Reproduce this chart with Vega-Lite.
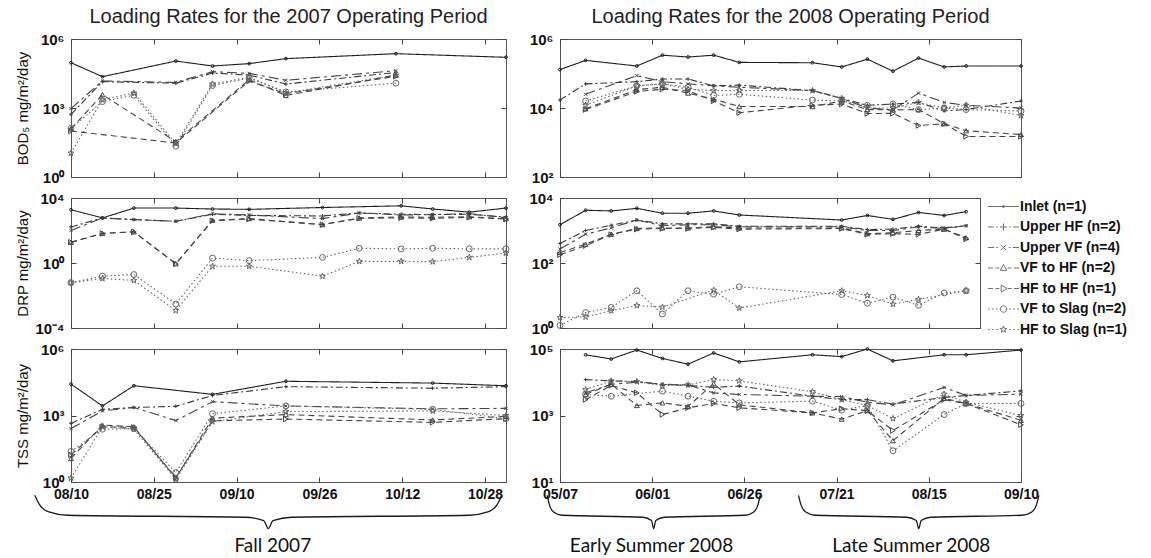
{
  "$schema": "https://vega.github.io/schema/vega-lite/v6.json",
  "padding": {"left": 14, "top": 6, "right": 5, "bottom": 5},
  "background": "white",
  "datasets": {
    "bod07": [
      {"series":"Inlet","date":"2007-08-10","value":93000},{"series":"Inlet","date":"2007-08-16","value":23000},{"series":"Inlet","date":"2007-08-30","value":110000},{"series":"Inlet","date":"2007-09-06","value":67000},{"series":"Inlet","date":"2007-09-13","value":85000},{"series":"Inlet","date":"2007-09-20","value":140000},{"series":"Inlet","date":"2007-10-11","value":230000},{"series":"Inlet","date":"2007-11-01","value":160000},
      {"series":"Upper HF","date":"2007-08-10","value":530},{"series":"Upper HF","date":"2007-08-16","value":14000},{"series":"Upper HF","date":"2007-08-30","value":12000},{"series":"Upper HF","date":"2007-09-06","value":33000},{"series":"Upper HF","date":"2007-09-13","value":27000},{"series":"Upper HF","date":"2007-09-20","value":11000},{"series":"Upper HF","date":"2007-10-11","value":35000},
      {"series":"Upper VF","date":"2007-08-10","value":940},{"series":"Upper VF","date":"2007-08-16","value":15000},{"series":"Upper VF","date":"2007-08-30","value":13000},{"series":"Upper VF","date":"2007-09-06","value":38000},{"series":"Upper VF","date":"2007-09-13","value":32000},{"series":"Upper VF","date":"2007-09-20","value":16000},{"series":"Upper VF","date":"2007-10-11","value":42000},
      {"series":"VF to HF","date":"2007-08-10","value":125},{"series":"VF to HF","date":"2007-08-16","value":3800},{"series":"VF to HF","date":"2007-08-30","value":35},{"series":"VF to HF","date":"2007-09-13","value":17000},{"series":"VF to HF","date":"2007-09-20","value":3500},{"series":"VF to HF","date":"2007-10-11","value":27000},
      {"series":"HF to HF","date":"2007-08-10","value":100},{"series":"HF to HF","date":"2007-08-30","value":30},{"series":"HF to HF","date":"2007-09-13","value":15000},{"series":"HF to HF","date":"2007-09-20","value":4200},{"series":"HF to HF","date":"2007-10-11","value":24000},
      {"series":"VF to Slag","date":"2007-08-10","value":130},{"series":"VF to Slag","date":"2007-08-16","value":1900},{"series":"VF to Slag","date":"2007-08-22","value":3600},{"series":"VF to Slag","date":"2007-08-30","value":22},{"series":"VF to Slag","date":"2007-09-06","value":9500},{"series":"VF to Slag","date":"2007-09-13","value":20000},{"series":"VF to Slag","date":"2007-09-20","value":5000},{"series":"VF to Slag","date":"2007-10-11","value":12000},
      {"series":"HF to Slag","date":"2007-08-10","value":11},{"series":"HF to Slag","date":"2007-08-16","value":2300},{"series":"HF to Slag","date":"2007-08-22","value":4500},{"series":"HF to Slag","date":"2007-08-30","value":28},{"series":"HF to Slag","date":"2007-09-06","value":11000},{"series":"HF to Slag","date":"2007-09-13","value":22000},{"series":"HF to Slag","date":"2007-09-20","value":4500},{"series":"HF to Slag","date":"2007-10-11","value":27000}
    ],
    "drp07": [
      {"series":"Inlet","date":"2007-08-10","value":1900},{"series":"Inlet","date":"2007-08-16","value":590},{"series":"Inlet","date":"2007-08-22","value":2400},{"series":"Inlet","date":"2007-08-30","value":2400},{"series":"Inlet","date":"2007-09-06","value":2100},{"series":"Inlet","date":"2007-09-13","value":2000},{"series":"Inlet","date":"2007-09-27","value":2600},{"series":"Inlet","date":"2007-10-12","value":3300},{"series":"Inlet","date":"2007-10-18","value":2100},{"series":"Inlet","date":"2007-10-25","value":1350},{"series":"Inlet","date":"2007-11-01","value":2400},
      {"series":"Upper HF","date":"2007-08-10","value":166},{"series":"Upper HF","date":"2007-08-16","value":590},{"series":"Upper HF","date":"2007-08-22","value":470},{"series":"Upper HF","date":"2007-08-30","value":370},{"series":"Upper HF","date":"2007-09-06","value":1000},{"series":"Upper HF","date":"2007-09-13","value":850},{"series":"Upper HF","date":"2007-09-27","value":780},{"series":"Upper HF","date":"2007-10-04","value":1200},{"series":"Upper HF","date":"2007-10-12","value":1000},{"series":"Upper HF","date":"2007-10-18","value":950},{"series":"Upper HF","date":"2007-10-25","value":1000},{"series":"Upper HF","date":"2007-11-01","value":680},
      {"series":"Upper VF","date":"2007-08-10","value":100},{"series":"Upper VF","date":"2007-08-16","value":590},{"series":"Upper VF","date":"2007-08-22","value":470},{"series":"Upper VF","date":"2007-08-30","value":370},{"series":"Upper VF","date":"2007-09-06","value":1070},{"series":"Upper VF","date":"2007-09-13","value":900},{"series":"Upper VF","date":"2007-09-27","value":540},{"series":"Upper VF","date":"2007-10-04","value":1200},{"series":"Upper VF","date":"2007-10-12","value":900},{"series":"Upper VF","date":"2007-10-18","value":950},{"series":"Upper VF","date":"2007-10-25","value":1100},{"series":"Upper VF","date":"2007-11-01","value":600},
      {"series":"VF to HF","date":"2007-08-10","value":19},{"series":"VF to HF","date":"2007-08-16","value":66},{"series":"VF to HF","date":"2007-08-22","value":83},{"series":"VF to HF","date":"2007-08-30","value":0.9},{"series":"VF to HF","date":"2007-09-06","value":430},{"series":"VF to HF","date":"2007-09-13","value":540},{"series":"VF to HF","date":"2007-09-27","value":230},{"series":"VF to HF","date":"2007-10-04","value":590},{"series":"VF to HF","date":"2007-10-12","value":680},{"series":"VF to HF","date":"2007-10-18","value":650},{"series":"VF to HF","date":"2007-10-25","value":700},{"series":"VF to HF","date":"2007-11-01","value":540},
      {"series":"HF to HF","date":"2007-08-10","value":19},{"series":"HF to HF","date":"2007-08-16","value":66},{"series":"HF to HF","date":"2007-08-22","value":83},{"series":"HF to HF","date":"2007-08-30","value":0.9},{"series":"HF to HF","date":"2007-09-06","value":400},{"series":"HF to HF","date":"2007-09-13","value":500},{"series":"HF to HF","date":"2007-09-27","value":230},{"series":"HF to HF","date":"2007-10-04","value":560},{"series":"HF to HF","date":"2007-10-12","value":600},{"series":"HF to HF","date":"2007-10-18","value":560},{"series":"HF to HF","date":"2007-10-25","value":650},{"series":"HF to HF","date":"2007-11-01","value":500},
      {"series":"VF to Slag","date":"2007-08-10","value":0.062},{"series":"VF to Slag","date":"2007-08-16","value":0.155},{"series":"VF to Slag","date":"2007-08-22","value":0.195},{"series":"VF to Slag","date":"2007-08-30","value":0.003},{"series":"VF to Slag","date":"2007-09-06","value":2.0},{"series":"VF to Slag","date":"2007-09-13","value":1.4},{"series":"VF to Slag","date":"2007-09-27","value":2.2},{"series":"VF to Slag","date":"2007-10-04","value":8.1},{"series":"VF to Slag","date":"2007-10-12","value":7.4},{"series":"VF to Slag","date":"2007-10-18","value":8.1},{"series":"VF to Slag","date":"2007-10-25","value":7.4},{"series":"VF to Slag","date":"2007-11-01","value":7.4},
      {"series":"HF to Slag","date":"2007-08-10","value":0.062},{"series":"HF to Slag","date":"2007-08-16","value":0.11},{"series":"HF to Slag","date":"2007-08-22","value":0.085},{"series":"HF to Slag","date":"2007-08-30","value":0.0012},{"series":"HF to Slag","date":"2007-09-06","value":0.63},{"series":"HF to Slag","date":"2007-09-13","value":0.63},{"series":"HF to Slag","date":"2007-09-27","value":0.155},{"series":"HF to Slag","date":"2007-10-04","value":1.26},{"series":"HF to Slag","date":"2007-10-12","value":1.26},{"series":"HF to Slag","date":"2007-10-18","value":1.2},{"series":"HF to Slag","date":"2007-10-25","value":2.2},{"series":"HF to Slag","date":"2007-11-01","value":4.1}
    ],
    "tss07": [
      {"series":"Inlet","date":"2007-08-10","value":26000},{"series":"Inlet","date":"2007-08-16","value":2700},{"series":"Inlet","date":"2007-08-22","value":22000},{"series":"Inlet","date":"2007-09-06","value":9000},{"series":"Inlet","date":"2007-09-20","value":35000},{"series":"Inlet","date":"2007-10-18","value":29000},{"series":"Inlet","date":"2007-11-01","value":22000},
      {"series":"Upper HF","date":"2007-08-10","value":440},{"series":"Upper HF","date":"2007-08-16","value":1900},{"series":"Upper HF","date":"2007-08-22","value":2300},{"series":"Upper HF","date":"2007-08-30","value":2600},{"series":"Upper HF","date":"2007-09-06","value":8000},{"series":"Upper HF","date":"2007-09-20","value":20000},{"series":"Upper HF","date":"2007-10-18","value":17000},{"series":"Upper HF","date":"2007-11-01","value":20000},
      {"series":"Upper VF","date":"2007-08-10","value":257},{"series":"Upper VF","date":"2007-08-16","value":1600},{"series":"Upper VF","date":"2007-08-22","value":2300},{"series":"Upper VF","date":"2007-08-30","value":590},{"series":"Upper VF","date":"2007-09-06","value":4200},{"series":"Upper VF","date":"2007-09-20","value":2700},{"series":"Upper VF","date":"2007-10-18","value":2000},{"series":"Upper VF","date":"2007-11-01","value":2100},
      {"series":"VF to HF","date":"2007-08-10","value":11.5},{"series":"VF to HF","date":"2007-08-16","value":370},{"series":"VF to HF","date":"2007-08-22","value":310},{"series":"VF to HF","date":"2007-08-30","value":1.5},{"series":"VF to HF","date":"2007-09-06","value":760},{"series":"VF to HF","date":"2007-09-20","value":1100},{"series":"VF to HF","date":"2007-10-18","value":630},{"series":"VF to HF","date":"2007-11-01","value":910},
      {"series":"HF to HF","date":"2007-08-10","value":17},{"series":"HF to HF","date":"2007-08-16","value":310},{"series":"HF to HF","date":"2007-08-22","value":290},{"series":"HF to HF","date":"2007-08-30","value":1.6},{"series":"HF to HF","date":"2007-09-06","value":570},{"series":"HF to HF","date":"2007-09-20","value":690},{"series":"HF to HF","date":"2007-10-18","value":490},{"series":"HF to HF","date":"2007-11-01","value":720},
      {"series":"VF to Slag","date":"2007-08-10","value":24},{"series":"VF to Slag","date":"2007-08-16","value":240},{"series":"VF to Slag","date":"2007-08-22","value":260},{"series":"VF to Slag","date":"2007-08-30","value":2.7},{"series":"VF to Slag","date":"2007-09-06","value":1200},{"series":"VF to Slag","date":"2007-09-20","value":2700},{"series":"VF to Slag","date":"2007-10-18","value":1900},{"series":"VF to Slag","date":"2007-11-01","value":720},
      {"series":"HF to Slag","date":"2007-08-10","value":1.5},{"series":"HF to Slag","date":"2007-08-16","value":310},{"series":"HF to Slag","date":"2007-08-22","value":240},{"series":"HF to Slag","date":"2007-08-30","value":1.3},{"series":"HF to Slag","date":"2007-09-06","value":525},{"series":"HF to Slag","date":"2007-09-20","value":1500},{"series":"HF to Slag","date":"2007-10-18","value":1600},{"series":"HF to Slag","date":"2007-11-01","value":1000}
    ],
    "bod08": [
      {"series":"Inlet","date":"2008-05-07","value":130000},{"series":"Inlet","date":"2008-05-14","value":240000},{"series":"Inlet","date":"2008-05-28","value":165000},{"series":"Inlet","date":"2008-06-04","value":340000},{"series":"Inlet","date":"2008-06-11","value":300000},{"series":"Inlet","date":"2008-06-18","value":340000},{"series":"Inlet","date":"2008-06-25","value":210000},{"series":"Inlet","date":"2008-07-15","value":205000},{"series":"Inlet","date":"2008-07-23","value":155000},{"series":"Inlet","date":"2008-07-30","value":260000},{"series":"Inlet","date":"2008-08-06","value":117000},{"series":"Inlet","date":"2008-08-13","value":280000},{"series":"Inlet","date":"2008-08-20","value":155000},{"series":"Inlet","date":"2008-08-26","value":165000},{"series":"Inlet","date":"2008-09-10","value":165000},
      {"series":"Upper HF","date":"2008-05-07","value":17000},{"series":"Upper HF","date":"2008-05-14","value":50000},{"series":"Upper HF","date":"2008-05-28","value":58000},{"series":"Upper HF","date":"2008-06-04","value":69000},{"series":"Upper HF","date":"2008-06-11","value":69000},{"series":"Upper HF","date":"2008-06-18","value":44000},{"series":"Upper HF","date":"2008-06-25","value":46000},{"series":"Upper HF","date":"2008-07-15","value":32000},{"series":"Upper HF","date":"2008-07-23","value":19000},{"series":"Upper HF","date":"2008-07-30","value":12000},{"series":"Upper HF","date":"2008-08-06","value":13000},{"series":"Upper HF","date":"2008-08-13","value":14500},{"series":"Upper HF","date":"2008-08-20","value":8200},{"series":"Upper HF","date":"2008-08-26","value":9000},{"series":"Upper HF","date":"2008-09-10","value":16000},
      {"series":"Upper VF","date":"2008-05-14","value":25000},{"series":"Upper VF","date":"2008-05-28","value":87000},{"series":"Upper VF","date":"2008-06-04","value":58000},{"series":"Upper VF","date":"2008-06-11","value":50000},{"series":"Upper VF","date":"2008-06-18","value":44000},{"series":"Upper VF","date":"2008-06-25","value":40000},{"series":"Upper VF","date":"2008-07-15","value":32000},{"series":"Upper VF","date":"2008-07-23","value":19000},{"series":"Upper VF","date":"2008-07-30","value":10000},{"series":"Upper VF","date":"2008-08-06","value":8800},{"series":"Upper VF","date":"2008-08-13","value":27000},{"series":"Upper VF","date":"2008-08-20","value":14500},{"series":"Upper VF","date":"2008-08-26","value":12000},{"series":"Upper VF","date":"2008-09-10","value":10000},
      {"series":"VF to HF","date":"2008-05-14","value":9500},{"series":"VF to HF","date":"2008-05-28","value":34000},{"series":"VF to HF","date":"2008-06-04","value":40000},{"series":"VF to HF","date":"2008-06-11","value":27000},{"series":"VF to HF","date":"2008-06-18","value":18000},{"series":"VF to HF","date":"2008-06-25","value":11000},{"series":"VF to HF","date":"2008-07-15","value":11000},{"series":"VF to HF","date":"2008-07-23","value":16000},{"series":"VF to HF","date":"2008-07-30","value":9000},{"series":"VF to HF","date":"2008-08-06","value":8800},{"series":"VF to HF","date":"2008-08-13","value":9000},{"series":"VF to HF","date":"2008-08-20","value":3500},{"series":"VF to HF","date":"2008-08-26","value":2200},{"series":"VF to HF","date":"2008-09-10","value":1700},
      {"series":"HF to HF","date":"2008-05-14","value":9000},{"series":"HF to HF","date":"2008-05-28","value":30000},{"series":"HF to HF","date":"2008-06-04","value":35000},{"series":"HF to HF","date":"2008-06-11","value":32000},{"series":"HF to HF","date":"2008-06-18","value":16000},{"series":"HF to HF","date":"2008-06-25","value":7300},{"series":"HF to HF","date":"2008-07-15","value":12000},{"series":"HF to HF","date":"2008-07-23","value":13000},{"series":"HF to HF","date":"2008-07-30","value":6900},{"series":"HF to HF","date":"2008-08-06","value":7000},{"series":"HF to HF","date":"2008-08-13","value":3100},{"series":"HF to HF","date":"2008-08-20","value":3500},{"series":"HF to HF","date":"2008-08-26","value":1500},{"series":"HF to HF","date":"2008-09-10","value":1500},
      {"series":"VF to Slag","date":"2008-05-14","value":16000},{"series":"VF to Slag","date":"2008-05-28","value":44000},{"series":"VF to Slag","date":"2008-06-04","value":50000},{"series":"VF to Slag","date":"2008-06-11","value":40000},{"series":"VF to Slag","date":"2008-06-18","value":23000},{"series":"VF to Slag","date":"2008-06-25","value":25000},{"series":"VF to Slag","date":"2008-07-15","value":17000},{"series":"VF to Slag","date":"2008-07-23","value":16000},{"series":"VF to Slag","date":"2008-07-30","value":12000},{"series":"VF to Slag","date":"2008-08-06","value":13000},{"series":"VF to Slag","date":"2008-08-13","value":9000},{"series":"VF to Slag","date":"2008-08-20","value":10000},{"series":"VF to Slag","date":"2008-08-26","value":9000},{"series":"VF to Slag","date":"2008-09-10","value":8200},
      {"series":"HF to Slag","date":"2008-05-14","value":12000},{"series":"HF to Slag","date":"2008-05-28","value":44000},{"series":"HF to Slag","date":"2008-06-04","value":50000},{"series":"HF to Slag","date":"2008-06-11","value":35000},{"series":"HF to Slag","date":"2008-06-18","value":32000},{"series":"HF to Slag","date":"2008-06-25","value":32000},{"series":"HF to Slag","date":"2008-07-15","value":32000},{"series":"HF to Slag","date":"2008-07-23","value":19000},{"series":"HF to Slag","date":"2008-07-30","value":10000},{"series":"HF to Slag","date":"2008-08-06","value":10000},{"series":"HF to Slag","date":"2008-08-13","value":14500},{"series":"HF to Slag","date":"2008-08-20","value":10000},{"series":"HF to Slag","date":"2008-08-26","value":12000},{"series":"HF to Slag","date":"2008-09-10","value":6000}
    ],
    "drp08": [
      {"series":"Inlet","date":"2008-05-07","value":1500},{"series":"Inlet","date":"2008-05-14","value":4200},{"series":"Inlet","date":"2008-05-21","value":4000},{"series":"Inlet","date":"2008-05-28","value":4800},{"series":"Inlet","date":"2008-06-04","value":3400},{"series":"Inlet","date":"2008-06-11","value":3400},{"series":"Inlet","date":"2008-06-18","value":4000},{"series":"Inlet","date":"2008-06-25","value":3000},{"series":"Inlet","date":"2008-07-23","value":2100},{"series":"Inlet","date":"2008-07-30","value":2900},{"series":"Inlet","date":"2008-08-06","value":2200},{"series":"Inlet","date":"2008-08-13","value":3600},{"series":"Inlet","date":"2008-08-20","value":2900},{"series":"Inlet","date":"2008-08-26","value":3800},
      {"series":"Upper HF","date":"2008-05-07","value":400},{"series":"Upper HF","date":"2008-05-14","value":1000},{"series":"Upper HF","date":"2008-05-21","value":1450},{"series":"Upper HF","date":"2008-05-28","value":2100},{"series":"Upper HF","date":"2008-06-04","value":1600},{"series":"Upper HF","date":"2008-06-11","value":1600},{"series":"Upper HF","date":"2008-06-18","value":1600},{"series":"Upper HF","date":"2008-06-25","value":1350},{"series":"Upper HF","date":"2008-07-23","value":1350},{"series":"Upper HF","date":"2008-07-30","value":1070},{"series":"Upper HF","date":"2008-08-06","value":1100},{"series":"Upper HF","date":"2008-08-13","value":1350},{"series":"Upper HF","date":"2008-08-20","value":1200},{"series":"Upper HF","date":"2008-08-26","value":1400},
      {"series":"Upper VF","date":"2008-05-07","value":270},{"series":"Upper VF","date":"2008-05-14","value":770},{"series":"Upper VF","date":"2008-05-21","value":1200},{"series":"Upper VF","date":"2008-05-28","value":2100},{"series":"Upper VF","date":"2008-06-04","value":1400},{"series":"Upper VF","date":"2008-06-11","value":1500},{"series":"Upper VF","date":"2008-06-18","value":1500},{"series":"Upper VF","date":"2008-06-25","value":1300},{"series":"Upper VF","date":"2008-07-23","value":1300},{"series":"Upper VF","date":"2008-07-30","value":1000},{"series":"Upper VF","date":"2008-08-06","value":1000},{"series":"Upper VF","date":"2008-08-13","value":1300},{"series":"Upper VF","date":"2008-08-20","value":1150},{"series":"Upper VF","date":"2008-08-26","value":1400},
      {"series":"VF to HF","date":"2008-05-07","value":210},{"series":"VF to HF","date":"2008-05-14","value":380},{"series":"VF to HF","date":"2008-05-21","value":770},{"series":"VF to HF","date":"2008-05-28","value":1150},{"series":"VF to HF","date":"2008-06-04","value":1200},{"series":"VF to HF","date":"2008-06-11","value":1200},{"series":"VF to HF","date":"2008-06-18","value":1300},{"series":"VF to HF","date":"2008-06-25","value":1200},{"series":"VF to HF","date":"2008-07-23","value":1200},{"series":"VF to HF","date":"2008-07-30","value":800},{"series":"VF to HF","date":"2008-08-06","value":850},{"series":"VF to HF","date":"2008-08-13","value":1000},{"series":"VF to HF","date":"2008-08-20","value":1100},{"series":"VF to HF","date":"2008-08-26","value":600},
      {"series":"HF to HF","date":"2008-05-07","value":180},{"series":"HF to HF","date":"2008-05-14","value":340},{"series":"HF to HF","date":"2008-05-21","value":750},{"series":"HF to HF","date":"2008-05-28","value":1100},{"series":"HF to HF","date":"2008-06-04","value":1150},{"series":"HF to HF","date":"2008-06-11","value":1150},{"series":"HF to HF","date":"2008-06-18","value":1250},{"series":"HF to HF","date":"2008-06-25","value":1100},{"series":"HF to HF","date":"2008-07-23","value":1150},{"series":"HF to HF","date":"2008-07-30","value":760},{"series":"HF to HF","date":"2008-08-06","value":800},{"series":"HF to HF","date":"2008-08-13","value":760},{"series":"HF to HF","date":"2008-08-20","value":1100},{"series":"HF to HF","date":"2008-08-26","value":550},
      {"series":"VF to Slag","date":"2008-05-07","value":1.2},{"series":"VF to Slag","date":"2008-05-14","value":3},{"series":"VF to Slag","date":"2008-05-21","value":4.3},{"series":"VF to Slag","date":"2008-05-28","value":14},{"series":"VF to Slag","date":"2008-06-04","value":2.7},{"series":"VF to Slag","date":"2008-06-11","value":14},{"series":"VF to Slag","date":"2008-06-18","value":11},{"series":"VF to Slag","date":"2008-06-25","value":18.6},{"series":"VF to Slag","date":"2008-07-23","value":10.7},{"series":"VF to Slag","date":"2008-07-30","value":5.8},{"series":"VF to Slag","date":"2008-08-06","value":8.9},{"series":"VF to Slag","date":"2008-08-13","value":5},{"series":"VF to Slag","date":"2008-08-20","value":12},{"series":"VF to Slag","date":"2008-08-26","value":14},
      {"series":"HF to Slag","date":"2008-05-07","value":2.1},{"series":"HF to Slag","date":"2008-05-14","value":2.2},{"series":"HF to Slag","date":"2008-05-21","value":3.4},{"series":"HF to Slag","date":"2008-05-28","value":4.9},{"series":"HF to Slag","date":"2008-06-04","value":4.4},{"series":"HF to Slag","date":"2008-06-18","value":14.5},{"series":"HF to Slag","date":"2008-06-25","value":4.1},{"series":"HF to Slag","date":"2008-07-23","value":14},{"series":"HF to Slag","date":"2008-07-30","value":10},{"series":"HF to Slag","date":"2008-08-06","value":5.4},{"series":"HF to Slag","date":"2008-08-13","value":7.6},{"series":"HF to Slag","date":"2008-08-26","value":14}
    ],
    "tss08": [
      {"series":"Inlet","date":"2008-05-14","value":67000},{"series":"Inlet","date":"2008-05-21","value":50000},{"series":"Inlet","date":"2008-05-28","value":93000},{"series":"Inlet","date":"2008-06-04","value":52000},{"series":"Inlet","date":"2008-06-11","value":35000},{"series":"Inlet","date":"2008-06-18","value":76000},{"series":"Inlet","date":"2008-06-25","value":41000},{"series":"Inlet","date":"2008-07-15","value":67000},{"series":"Inlet","date":"2008-07-23","value":59000},{"series":"Inlet","date":"2008-07-30","value":100000},{"series":"Inlet","date":"2008-08-06","value":44000},{"series":"Inlet","date":"2008-08-20","value":67000},{"series":"Inlet","date":"2008-08-26","value":67000},{"series":"Inlet","date":"2008-09-10","value":93000},
      {"series":"Upper HF","date":"2008-05-14","value":12000},{"series":"Upper HF","date":"2008-05-21","value":11000},{"series":"Upper HF","date":"2008-05-28","value":10500},{"series":"Upper HF","date":"2008-06-04","value":8700},{"series":"Upper HF","date":"2008-06-11","value":8000},{"series":"Upper HF","date":"2008-06-18","value":7000},{"series":"Upper HF","date":"2008-06-25","value":7700},{"series":"Upper HF","date":"2008-07-15","value":3800},{"series":"Upper HF","date":"2008-07-23","value":3000},{"series":"Upper HF","date":"2008-07-30","value":3000},{"series":"Upper HF","date":"2008-08-06","value":2200},{"series":"Upper HF","date":"2008-08-20","value":3500},{"series":"Upper HF","date":"2008-08-26","value":4000},{"series":"Upper HF","date":"2008-09-10","value":5500},
      {"series":"Upper VF","date":"2008-05-14","value":4800},{"series":"Upper VF","date":"2008-05-21","value":8700},{"series":"Upper VF","date":"2008-05-28","value":10000},{"series":"Upper VF","date":"2008-06-04","value":8700},{"series":"Upper VF","date":"2008-06-11","value":8300},{"series":"Upper VF","date":"2008-06-18","value":4800},{"series":"Upper VF","date":"2008-06-25","value":4300},{"series":"Upper VF","date":"2008-07-15","value":3800},{"series":"Upper VF","date":"2008-07-23","value":3700},{"series":"Upper VF","date":"2008-07-30","value":2500},{"series":"Upper VF","date":"2008-08-06","value":2100},{"series":"Upper VF","date":"2008-08-20","value":7000},{"series":"Upper VF","date":"2008-08-26","value":4000},{"series":"Upper VF","date":"2008-09-10","value":4400},
      {"series":"VF to HF","date":"2008-05-14","value":4300},{"series":"VF to HF","date":"2008-05-21","value":8700},{"series":"VF to HF","date":"2008-05-28","value":2000},{"series":"VF to HF","date":"2008-06-04","value":2400},{"series":"VF to HF","date":"2008-06-11","value":1900},{"series":"VF to HF","date":"2008-06-18","value":9000},{"series":"VF to HF","date":"2008-06-25","value":2100},{"series":"VF to HF","date":"2008-07-15","value":1200},{"series":"VF to HF","date":"2008-07-23","value":780},{"series":"VF to HF","date":"2008-07-30","value":1400},{"series":"VF to HF","date":"2008-08-06","value":175},{"series":"VF to HF","date":"2008-08-20","value":3300},{"series":"VF to HF","date":"2008-08-26","value":2300},{"series":"VF to HF","date":"2008-09-10","value":720},
      {"series":"HF to HF","date":"2008-05-14","value":3000},{"series":"HF to HF","date":"2008-05-21","value":8000},{"series":"HF to HF","date":"2008-05-28","value":4800},{"series":"HF to HF","date":"2008-06-04","value":1070},{"series":"HF to HF","date":"2008-06-11","value":1700},{"series":"HF to HF","date":"2008-06-18","value":2300},{"series":"HF to HF","date":"2008-06-25","value":1700},{"series":"HF to HF","date":"2008-07-15","value":1200},{"series":"HF to HF","date":"2008-07-23","value":1600},{"series":"HF to HF","date":"2008-07-30","value":1400},{"series":"HF to HF","date":"2008-08-06","value":355},{"series":"HF to HF","date":"2008-08-20","value":3000},{"series":"HF to HF","date":"2008-08-26","value":2300},{"series":"HF to HF","date":"2008-09-10","value":525},
      {"series":"VF to Slag","date":"2008-05-14","value":4300},{"series":"VF to Slag","date":"2008-05-21","value":3800},{"series":"VF to Slag","date":"2008-06-04","value":5400},{"series":"VF to Slag","date":"2008-06-11","value":3800},{"series":"VF to Slag","date":"2008-06-18","value":2700},{"series":"VF to Slag","date":"2008-06-25","value":2400},{"series":"VF to Slag","date":"2008-07-15","value":2700},{"series":"VF to Slag","date":"2008-07-23","value":1450},{"series":"VF to Slag","date":"2008-07-30","value":2000},{"series":"VF to Slag","date":"2008-08-06","value":87},{"series":"VF to Slag","date":"2008-08-20","value":1070},{"series":"VF to Slag","date":"2008-08-26","value":2300},{"series":"VF to Slag","date":"2008-09-10","value":2300},
      {"series":"HF to Slag","date":"2008-05-14","value":6000},{"series":"HF to Slag","date":"2008-05-21","value":11000},{"series":"HF to Slag","date":"2008-05-28","value":10500},{"series":"HF to Slag","date":"2008-06-04","value":8000},{"series":"HF to Slag","date":"2008-06-11","value":8300},{"series":"HF to Slag","date":"2008-06-18","value":12000},{"series":"HF to Slag","date":"2008-06-25","value":11000},{"series":"HF to Slag","date":"2008-07-15","value":5200},{"series":"HF to Slag","date":"2008-07-23","value":3000},{"series":"HF to Slag","date":"2008-07-30","value":2000},{"series":"HF to Slag","date":"2008-08-06","value":810},{"series":"HF to Slag","date":"2008-08-20","value":4400},{"series":"HF to Slag","date":"2008-08-26","value":2500},{"series":"HF to Slag","date":"2008-09-10","value":1000}
    ],
    "braceL": [
      {"brace":"Fall 2007","date":"2007-08-03T02:24:00Z","pos":-0.1},{"brace":"Fall 2007","date":"2007-08-03T23:45:00Z","pos":-0.17},{"brace":"Fall 2007","date":"2007-08-05T18:30:00Z","pos":-0.225},{"brace":"Fall 2007","date":"2007-08-09T08:10:00Z","pos":-0.25},{"brace":"Fall 2007","date":"2007-09-12T04:48:00Z","pos":-0.265},{"brace":"Fall 2007","date":"2007-09-15T18:14:00Z","pos":-0.29},{"brace":"Fall 2007","date":"2007-09-16T15:36:00Z","pos":-0.35},{"brace":"Fall 2007","date":"2007-09-17T13:00:00Z","pos":-0.29},{"brace":"Fall 2007","date":"2007-09-21T02:24:00Z","pos":-0.265},{"brace":"Fall 2007","date":"2007-10-24T23:00:00Z","pos":-0.25},{"brace":"Fall 2007","date":"2007-10-28T12:43:00Z","pos":-0.225},{"brace":"Fall 2007","date":"2007-10-30T07:26:00Z","pos":-0.17},{"brace":"Fall 2007","date":"2007-10-31T04:48:00Z","pos":-0.1}
    ],
    "braceLText": [{"label":"Fall 2007","date":"2007-09-17T12:00:00Z","pos":-0.48}],
    "braceR": [
      {"brace":"Early","date":"2008-05-03T12:00:00Z","pos":-0.1},{"brace":"Early","date":"2008-05-04T02:00:00Z","pos":-0.17},{"brace":"Early","date":"2008-05-05T06:00:00Z","pos":-0.225},{"brace":"Early","date":"2008-05-07T13:47:00Z","pos":-0.25},{"brace":"Early","date":"2008-05-29T16:34:00Z","pos":-0.265},{"brace":"Early","date":"2008-06-01T00:29:00Z","pos":-0.29},{"brace":"Early","date":"2008-06-01T14:24:00Z","pos":-0.35},{"brace":"Early","date":"2008-06-02T04:19:00Z","pos":-0.29},{"brace":"Early","date":"2008-06-04T12:14:00Z","pos":-0.265},{"brace":"Early","date":"2008-06-26T15:07:00Z","pos":-0.25},{"brace":"Early","date":"2008-06-28T22:48:00Z","pos":-0.225},{"brace":"Early","date":"2008-06-30T02:53:00Z","pos":-0.17},{"brace":"Early","date":"2008-06-30T16:48:00Z","pos":-0.1},
      {"brace":"Late","date":"2008-07-11T04:48:00Z","pos":-0.1},{"brace":"Late","date":"2008-07-11T20:34:00Z","pos":-0.17},{"brace":"Late","date":"2008-07-13T04:05:00Z","pos":-0.225},{"brace":"Late","date":"2008-07-15T19:12:00Z","pos":-0.25},{"brace":"Late","date":"2008-08-09T18:29:00Z","pos":-0.265},{"brace":"Late","date":"2008-08-12T09:22:00Z","pos":-0.29},{"brace":"Late","date":"2008-08-13T01:12:00Z","pos":-0.35},{"brace":"Late","date":"2008-08-13T17:02:00Z","pos":-0.29},{"brace":"Late","date":"2008-08-16T08:10:00Z","pos":-0.265},{"brace":"Late","date":"2008-09-10T07:12:00Z","pos":-0.25},{"brace":"Late","date":"2008-09-12T22:19:00Z","pos":-0.225},{"brace":"Late","date":"2008-09-14T05:46:00Z","pos":-0.17},{"brace":"Late","date":"2008-09-14T21:36:00Z","pos":-0.1}
    ],
    "braceRText": [{"label":"Early Summer 2008","date":"2008-06-01T00:00:00Z","pos":-0.48},{"label":"Late Summer 2008","date":"2008-08-11T00:00:00Z","pos":-0.48}]
  },
  "hconcat": [
    {
      "vconcat": [
        {
          "width": 435, "height": 138,
          "title": {"text": "Loading Rates for the 2007 Operating Period"},
          "data": {"name": "bod07"},
          "layer": [
            {"mark": {"type": "line", "strokeWidth": 1.1},
             "encoding": {
               "x": {"field": "date", "type": "temporal", "scale": {"type": "utc", "domain": [{"year":2007,"month":8,"date":10,"utc":true},{"year":2007,"month":11,"date":1,"utc":true}]}, "axis": {"values": [{"year":2007,"month":8,"date":10,"utc":true},{"year":2007,"month":8,"date":25,"hours":19,"minutes":12,"utc":true},{"year":2007,"month":9,"date":10,"hours":14,"minutes":24,"utc":true},{"year":2007,"month":9,"date":26,"hours":9,"minutes":36,"utc":true},{"year":2007,"month":10,"date":12,"hours":4,"minutes":48,"utc":true},{"year":2007,"month":10,"date":28,"utc":true}], "labels": false, "tickSize": -5, "title": null}},
               "y": {"field": "value", "type": "quantitative", "scale": {"type": "log", "domain": [1, 1000000], "nice": false}, "axis": {"values": [1, 1000, 1000000], "title": "BOD₅ mg/m²/day", "tickSize": -5, "labelExpr": "datum.value < 0.001 ? '10⁻⁴' : datum.value < 5 ? '10⁰' : datum.value < 50 ? '10¹' : datum.value < 500 ? '10²' : datum.value < 5000 ? '10³' : datum.value < 50000 ? '10⁴' : datum.value < 500000 ? '10⁵' : '10⁶'"}},
               "color": {"field": "series", "type": "nominal", "scale": {"domain": ["Inlet","Upper HF","Upper VF","VF to HF","HF to HF","VF to Slag","HF to Slag"], "range": ["#1f1f1f","#383838","#454545","#454545","#454545","#666666","#666666"]}, "legend": null},
               "strokeDash": {"field": "series", "type": "nominal", "scale": {"domain": ["Inlet","Upper HF","Upper VF","VF to HF","HF to HF","VF to Slag","HF to Slag"], "range": [[1,0],[7,3,2,3],[10,4,3,4],[6,4],[6,4],[1.5,2.5],[1.5,2.5]]}, "legend": null}
             }},
            {"mark": {"type": "point", "filled": false, "strokeWidth": 1, "opacity": 1},
             "encoding": {
               "x": {"field": "date", "type": "temporal", "scale": {"type": "utc", "domain": [{"year":2007,"month":8,"date":10,"utc":true},{"year":2007,"month":11,"date":1,"utc":true}]}, "axis": {"orient": "top", "values": [{"year":2007,"month":8,"date":10,"utc":true},{"year":2007,"month":8,"date":25,"hours":19,"minutes":12,"utc":true},{"year":2007,"month":9,"date":10,"hours":14,"minutes":24,"utc":true},{"year":2007,"month":9,"date":26,"hours":9,"minutes":36,"utc":true},{"year":2007,"month":10,"date":12,"hours":4,"minutes":48,"utc":true},{"year":2007,"month":10,"date":28,"utc":true}], "labels": false, "tickSize": -5, "title": null}},
               "y": {"field": "value", "type": "quantitative", "scale": {"type": "log", "domain": [1, 1000000], "nice": false}, "axis": {"orient": "right", "values": [1, 1000, 1000000], "labels": false, "tickSize": -5, "title": null}},
               "color": {"field": "series", "type": "nominal", "scale": {"domain": ["Inlet","Upper HF","Upper VF","VF to HF","HF to HF","VF to Slag","HF to Slag"], "range": ["#1f1f1f","#383838","#454545","#454545","#454545","#666666","#666666"]}, "legend": null},
               "shape": {"field": "series", "type": "nominal", "scale": {"domain": ["Inlet","Upper HF","Upper VF","VF to HF","HF to HF","VF to Slag","HF to Slag"], "range": ["circle","M-1,0L1,0M0,-1L0,1","M-0.75,-0.75L0.75,0.75M-0.75,0.75L0.75,-0.75","triangle-up","triangle-right","circle","M0,-1L0.235,-0.324L0.951,-0.309L0.38,0.124L0.588,0.809L0,0.4L-0.588,0.809L-0.38,0.124L-0.951,-0.309L-0.235,-0.324Z"]}, "legend": null},
               "size": {"field": "series", "type": "nominal", "scale": {"domain": ["Inlet","Upper HF","Upper VF","VF to HF","HF to HF","VF to Slag","HF to Slag"], "range": [8,40,36,36,36,42,50]}, "legend": null}
             }}
          ],
          "resolve": {"axis": {"x": "independent", "y": "independent"}}
        },
        {
          "width": 435, "height": 130,
          "data": {"name": "drp07"},
          "layer": [
            {"mark": {"type": "line", "strokeWidth": 1.1},
             "encoding": {
               "x": {"field": "date", "type": "temporal", "scale": {"type": "utc", "domain": [{"year":2007,"month":8,"date":10,"utc":true},{"year":2007,"month":11,"date":1,"utc":true}]}, "axis": {"values": [{"year":2007,"month":8,"date":10,"utc":true},{"year":2007,"month":8,"date":25,"hours":19,"minutes":12,"utc":true},{"year":2007,"month":9,"date":10,"hours":14,"minutes":24,"utc":true},{"year":2007,"month":9,"date":26,"hours":9,"minutes":36,"utc":true},{"year":2007,"month":10,"date":12,"hours":4,"minutes":48,"utc":true},{"year":2007,"month":10,"date":28,"utc":true}], "labels": false, "tickSize": -5, "title": null}},
               "y": {"field": "value", "type": "quantitative", "scale": {"type": "log", "domain": [0.0001, 10000], "nice": false}, "axis": {"values": [0.0001, 1, 10000], "title": "DRP mg/m²/day", "tickSize": -5, "labelExpr": "datum.value < 0.001 ? '10⁻⁴' : datum.value < 5 ? '10⁰' : datum.value < 50 ? '10¹' : datum.value < 500 ? '10²' : datum.value < 5000 ? '10³' : datum.value < 50000 ? '10⁴' : datum.value < 500000 ? '10⁵' : '10⁶'"}},
               "color": {"field": "series", "type": "nominal", "scale": {"domain": ["Inlet","Upper HF","Upper VF","VF to HF","HF to HF","VF to Slag","HF to Slag"], "range": ["#1f1f1f","#383838","#454545","#454545","#454545","#666666","#666666"]}, "legend": null},
               "strokeDash": {"field": "series", "type": "nominal", "scale": {"domain": ["Inlet","Upper HF","Upper VF","VF to HF","HF to HF","VF to Slag","HF to Slag"], "range": [[1,0],[7,3,2,3],[10,4,3,4],[6,4],[6,4],[1.5,2.5],[1.5,2.5]]}, "legend": null}
             }},
            {"mark": {"type": "point", "filled": false, "strokeWidth": 1, "opacity": 1},
             "encoding": {
               "x": {"field": "date", "type": "temporal", "scale": {"type": "utc", "domain": [{"year":2007,"month":8,"date":10,"utc":true},{"year":2007,"month":11,"date":1,"utc":true}]}, "axis": {"orient": "top", "values": [{"year":2007,"month":8,"date":10,"utc":true},{"year":2007,"month":8,"date":25,"hours":19,"minutes":12,"utc":true},{"year":2007,"month":9,"date":10,"hours":14,"minutes":24,"utc":true},{"year":2007,"month":9,"date":26,"hours":9,"minutes":36,"utc":true},{"year":2007,"month":10,"date":12,"hours":4,"minutes":48,"utc":true},{"year":2007,"month":10,"date":28,"utc":true}], "labels": false, "tickSize": -5, "title": null}},
               "y": {"field": "value", "type": "quantitative", "scale": {"type": "log", "domain": [0.0001, 10000], "nice": false}, "axis": {"orient": "right", "values": [0.0001, 1, 10000], "labels": false, "tickSize": -5, "title": null}},
               "color": {"field": "series", "type": "nominal", "scale": {"domain": ["Inlet","Upper HF","Upper VF","VF to HF","HF to HF","VF to Slag","HF to Slag"], "range": ["#1f1f1f","#383838","#454545","#454545","#454545","#666666","#666666"]}, "legend": null},
               "shape": {"field": "series", "type": "nominal", "scale": {"domain": ["Inlet","Upper HF","Upper VF","VF to HF","HF to HF","VF to Slag","HF to Slag"], "range": ["circle","M-1,0L1,0M0,-1L0,1","M-0.75,-0.75L0.75,0.75M-0.75,0.75L0.75,-0.75","triangle-up","triangle-right","circle","M0,-1L0.235,-0.324L0.951,-0.309L0.38,0.124L0.588,0.809L0,0.4L-0.588,0.809L-0.38,0.124L-0.951,-0.309L-0.235,-0.324Z"]}, "legend": null},
               "size": {"field": "series", "type": "nominal", "scale": {"domain": ["Inlet","Upper HF","Upper VF","VF to HF","HF to HF","VF to Slag","HF to Slag"], "range": [8,40,36,36,36,42,50]}, "legend": null}
             }}
          ],
          "resolve": {"axis": {"x": "independent", "y": "independent"}}
        },
        {
          "width": 435, "height": 133,
          "layer": [
            {"data": {"name": "tss07"},
             "mark": {"type": "line", "strokeWidth": 1.1},
             "encoding": {
               "x": {"field": "date", "type": "temporal", "scale": {"type": "utc", "domain": [{"year":2007,"month":8,"date":10,"utc":true},{"year":2007,"month":11,"date":1,"utc":true}]}, "axis": {"values": [{"year":2007,"month":8,"date":10,"utc":true},{"year":2007,"month":8,"date":25,"hours":19,"minutes":12,"utc":true},{"year":2007,"month":9,"date":10,"hours":14,"minutes":24,"utc":true},{"year":2007,"month":9,"date":26,"hours":9,"minutes":36,"utc":true},{"year":2007,"month":10,"date":12,"hours":4,"minutes":48,"utc":true},{"year":2007,"month":10,"date":28,"utc":true}], "format": "%m/%d", "tickSize": -5, "title": null}},
               "y": {"field": "value", "type": "quantitative", "scale": {"type": "log", "domain": [1, 1000000], "nice": false}, "axis": {"values": [1, 1000, 1000000], "title": "TSS mg/m²/day", "tickSize": -5, "labelExpr": "datum.value < 0.001 ? '10⁻⁴' : datum.value < 5 ? '10⁰' : datum.value < 50 ? '10¹' : datum.value < 500 ? '10²' : datum.value < 5000 ? '10³' : datum.value < 50000 ? '10⁴' : datum.value < 500000 ? '10⁵' : '10⁶'"}},
               "color": {"field": "series", "type": "nominal", "scale": {"domain": ["Inlet","Upper HF","Upper VF","VF to HF","HF to HF","VF to Slag","HF to Slag"], "range": ["#1f1f1f","#383838","#454545","#454545","#454545","#666666","#666666"]}, "legend": null},
               "strokeDash": {"field": "series", "type": "nominal", "scale": {"domain": ["Inlet","Upper HF","Upper VF","VF to HF","HF to HF","VF to Slag","HF to Slag"], "range": [[1,0],[7,3,2,3],[10,4,3,4],[6,4],[6,4],[1.5,2.5],[1.5,2.5]]}, "legend": null}
             }},
            {"data": {"name": "tss07"},
             "mark": {"type": "point", "filled": false, "strokeWidth": 1, "opacity": 1},
             "encoding": {
               "x": {"field": "date", "type": "temporal", "scale": {"type": "utc", "domain": [{"year":2007,"month":8,"date":10,"utc":true},{"year":2007,"month":11,"date":1,"utc":true}]}, "axis": {"orient": "top", "values": [{"year":2007,"month":8,"date":10,"utc":true},{"year":2007,"month":8,"date":25,"hours":19,"minutes":12,"utc":true},{"year":2007,"month":9,"date":10,"hours":14,"minutes":24,"utc":true},{"year":2007,"month":9,"date":26,"hours":9,"minutes":36,"utc":true},{"year":2007,"month":10,"date":12,"hours":4,"minutes":48,"utc":true},{"year":2007,"month":10,"date":28,"utc":true}], "labels": false, "tickSize": -5, "title": null}},
               "y": {"field": "value", "type": "quantitative", "scale": {"type": "log", "domain": [1, 1000000], "nice": false}, "axis": {"orient": "right", "values": [1, 1000, 1000000], "labels": false, "tickSize": -5, "title": null}},
               "color": {"field": "series", "type": "nominal", "scale": {"domain": ["Inlet","Upper HF","Upper VF","VF to HF","HF to HF","VF to Slag","HF to Slag"], "range": ["#1f1f1f","#383838","#454545","#454545","#454545","#666666","#666666"]}, "legend": null},
               "shape": {"field": "series", "type": "nominal", "scale": {"domain": ["Inlet","Upper HF","Upper VF","VF to HF","HF to HF","VF to Slag","HF to Slag"], "range": ["circle","M-1,0L1,0M0,-1L0,1","M-0.75,-0.75L0.75,0.75M-0.75,0.75L0.75,-0.75","triangle-up","triangle-right","circle","M0,-1L0.235,-0.324L0.951,-0.309L0.38,0.124L0.588,0.809L0,0.4L-0.588,0.809L-0.38,0.124L-0.951,-0.309L-0.235,-0.324Z"]}, "legend": null},
               "size": {"field": "series", "type": "nominal", "scale": {"domain": ["Inlet","Upper HF","Upper VF","VF to HF","HF to HF","VF to Slag","HF to Slag"], "range": [8,40,36,36,36,42,50]}, "legend": null}
             }},
            {"data": {"name": "braceL"},
             "mark": {"type": "line", "interpolate": "monotone", "color": "#1a1a1a", "strokeWidth": 1.3},
             "encoding": {
               "x": {"field": "date", "type": "temporal", "scale": {"type": "utc", "domain": [{"year":2007,"month":8,"date":10,"utc":true},{"year":2007,"month":11,"date":1,"utc":true}]}, "axis": null},
               "y": {"field": "pos", "type": "quantitative", "scale": {"domain": [0, 1]}, "axis": null},
               "detail": {"field": "brace", "type": "nominal"}
             }},
            {"data": {"name": "braceLText"},
             "mark": {"type": "text", "font": "Lato", "fontSize": 19, "color": "#111111", "align": "center", "baseline": "middle"},
             "encoding": {
               "x": {"field": "date", "type": "temporal", "scale": {"type": "utc", "domain": [{"year":2007,"month":8,"date":10,"utc":true},{"year":2007,"month":11,"date":1,"utc":true}]}, "axis": null},
               "y": {"field": "pos", "type": "quantitative", "scale": {"domain": [0, 1]}, "axis": null},
               "text": {"field": "label"}
             }}
          ],
          "resolve": {"scale": {"y": "independent"}, "axis": {"x": "independent", "y": "independent"}}
        }
      ],
      "spacing": 21, "bounds": "flush"
    },
    {
      "vconcat": [
        {
          "width": 461, "height": 138,
          "title": {"text": "Loading Rates for the 2008 Operating Period"},
          "data": {"name": "bod08"},
          "layer": [
            {"mark": {"type": "line", "strokeWidth": 1.1},
             "encoding": {
               "x": {"field": "date", "type": "temporal", "scale": {"type": "utc", "domain": [{"year":2008,"month":5,"date":7,"utc":true},{"year":2008,"month":9,"date":10,"utc":true}]}, "axis": {"values": [{"year":2008,"month":5,"date":7,"utc":true},{"year":2008,"month":6,"date":1,"hours":4,"minutes":48,"utc":true},{"year":2008,"month":6,"date":26,"hours":9,"minutes":36,"utc":true},{"year":2008,"month":7,"date":21,"hours":14,"minutes":24,"utc":true},{"year":2008,"month":8,"date":15,"hours":19,"minutes":12,"utc":true},{"year":2008,"month":9,"date":10,"utc":true}], "labels": false, "tickSize": -5, "title": null}},
               "y": {"field": "value", "type": "quantitative", "scale": {"type": "log", "domain": [100, 1000000], "nice": false}, "axis": {"values": [100, 10000, 1000000], "title": null, "tickSize": -5, "labelExpr": "datum.value < 0.001 ? '10⁻⁴' : datum.value < 5 ? '10⁰' : datum.value < 50 ? '10¹' : datum.value < 500 ? '10²' : datum.value < 5000 ? '10³' : datum.value < 50000 ? '10⁴' : datum.value < 500000 ? '10⁵' : '10⁶'"}},
               "color": {"field": "series", "type": "nominal", "scale": {"domain": ["Inlet","Upper HF","Upper VF","VF to HF","HF to HF","VF to Slag","HF to Slag"], "range": ["#1f1f1f","#383838","#454545","#454545","#454545","#666666","#666666"]}, "legend": null},
               "strokeDash": {"field": "series", "type": "nominal", "scale": {"domain": ["Inlet","Upper HF","Upper VF","VF to HF","HF to HF","VF to Slag","HF to Slag"], "range": [[1,0],[7,3,2,3],[10,4,3,4],[6,4],[6,4],[1.5,2.5],[1.5,2.5]]}, "legend": null}
             }},
            {"mark": {"type": "point", "filled": false, "strokeWidth": 1, "opacity": 1},
             "encoding": {
               "x": {"field": "date", "type": "temporal", "scale": {"type": "utc", "domain": [{"year":2008,"month":5,"date":7,"utc":true},{"year":2008,"month":9,"date":10,"utc":true}]}, "axis": {"orient": "top", "values": [{"year":2008,"month":5,"date":7,"utc":true},{"year":2008,"month":6,"date":1,"hours":4,"minutes":48,"utc":true},{"year":2008,"month":6,"date":26,"hours":9,"minutes":36,"utc":true},{"year":2008,"month":7,"date":21,"hours":14,"minutes":24,"utc":true},{"year":2008,"month":8,"date":15,"hours":19,"minutes":12,"utc":true},{"year":2008,"month":9,"date":10,"utc":true}], "labels": false, "tickSize": -5, "title": null}},
               "y": {"field": "value", "type": "quantitative", "scale": {"type": "log", "domain": [100, 1000000], "nice": false}, "axis": {"orient": "right", "values": [100, 10000, 1000000], "labels": false, "tickSize": -5, "title": null}},
               "color": {"field": "series", "type": "nominal", "scale": {"domain": ["Inlet","Upper HF","Upper VF","VF to HF","HF to HF","VF to Slag","HF to Slag"], "range": ["#1f1f1f","#383838","#454545","#454545","#454545","#666666","#666666"]}, "legend": null},
               "shape": {"field": "series", "type": "nominal", "scale": {"domain": ["Inlet","Upper HF","Upper VF","VF to HF","HF to HF","VF to Slag","HF to Slag"], "range": ["circle","M-1,0L1,0M0,-1L0,1","M-0.75,-0.75L0.75,0.75M-0.75,0.75L0.75,-0.75","triangle-up","triangle-right","circle","M0,-1L0.235,-0.324L0.951,-0.309L0.38,0.124L0.588,0.809L0,0.4L-0.588,0.809L-0.38,0.124L-0.951,-0.309L-0.235,-0.324Z"]}, "legend": null},
               "size": {"field": "series", "type": "nominal", "scale": {"domain": ["Inlet","Upper HF","Upper VF","VF to HF","HF to HF","VF to Slag","HF to Slag"], "range": [8,40,36,36,36,42,50]}, "legend": null}
             }}
          ],
          "resolve": {"axis": {"x": "independent", "y": "independent"}}
        },
        {
          "width": 420, "height": 130,
          "data": {"name": "drp08"},
          "layer": [
            {"mark": {"type": "line", "strokeWidth": 1.1},
             "encoding": {
               "x": {"field": "date", "type": "temporal", "scale": {"type": "utc", "domain": [{"year":2008,"month":5,"date":7,"utc":true},{"year":2008,"month":8,"date":29,"hours":19,"utc":true}]}, "axis": {"values": [{"year":2008,"month":5,"date":7,"utc":true},{"year":2008,"month":6,"date":1,"hours":4,"minutes":48,"utc":true},{"year":2008,"month":6,"date":26,"hours":9,"minutes":36,"utc":true},{"year":2008,"month":7,"date":21,"hours":14,"minutes":24,"utc":true},{"year":2008,"month":8,"date":15,"hours":19,"minutes":12,"utc":true}], "labels": false, "tickSize": -5, "title": null}},
               "y": {"field": "value", "type": "quantitative", "scale": {"type": "log", "domain": [1, 10000], "nice": false}, "axis": {"values": [1, 100, 10000], "title": null, "tickSize": -5, "labelExpr": "datum.value < 0.001 ? '10⁻⁴' : datum.value < 5 ? '10⁰' : datum.value < 50 ? '10¹' : datum.value < 500 ? '10²' : datum.value < 5000 ? '10³' : datum.value < 50000 ? '10⁴' : datum.value < 500000 ? '10⁵' : '10⁶'"}},
               "color": {"field": "series", "type": "nominal", "scale": {"domain": ["Inlet","Upper HF","Upper VF","VF to HF","HF to HF","VF to Slag","HF to Slag"], "range": ["#1f1f1f","#383838","#454545","#454545","#454545","#666666","#666666"]}, "legend": null},
               "strokeDash": {"field": "series", "type": "nominal", "scale": {"domain": ["Inlet","Upper HF","Upper VF","VF to HF","HF to HF","VF to Slag","HF to Slag"], "range": [[1,0],[7,3,2,3],[10,4,3,4],[6,4],[6,4],[1.5,2.5],[1.5,2.5]]}, "legend": null}
             }},
            {"mark": {"type": "point", "filled": false, "strokeWidth": 1, "opacity": 1},
             "encoding": {
               "x": {"field": "date", "type": "temporal", "scale": {"type": "utc", "domain": [{"year":2008,"month":5,"date":7,"utc":true},{"year":2008,"month":8,"date":29,"hours":19,"utc":true}]}, "axis": {"orient": "top", "values": [{"year":2008,"month":5,"date":7,"utc":true},{"year":2008,"month":6,"date":1,"hours":4,"minutes":48,"utc":true},{"year":2008,"month":6,"date":26,"hours":9,"minutes":36,"utc":true},{"year":2008,"month":7,"date":21,"hours":14,"minutes":24,"utc":true},{"year":2008,"month":8,"date":15,"hours":19,"minutes":12,"utc":true}], "labels": false, "tickSize": -5, "title": null}},
               "y": {"field": "value", "type": "quantitative", "scale": {"type": "log", "domain": [1, 10000], "nice": false}, "axis": {"orient": "right", "values": [1, 100, 10000], "labels": false, "tickSize": -5, "title": null}},
               "color": {"field": "series", "type": "nominal", "scale": {"domain": ["Inlet","Upper HF","Upper VF","VF to HF","HF to HF","VF to Slag","HF to Slag"], "range": ["#1f1f1f","#383838","#454545","#454545","#454545","#666666","#666666"]}, "legend": null},
               "shape": {"field": "series", "type": "nominal", "scale": {"domain": ["Inlet","Upper HF","Upper VF","VF to HF","HF to HF","VF to Slag","HF to Slag"], "range": ["circle","M-1,0L1,0M0,-1L0,1","M-0.75,-0.75L0.75,0.75M-0.75,0.75L0.75,-0.75","triangle-up","triangle-right","circle","M0,-1L0.235,-0.324L0.951,-0.309L0.38,0.124L0.588,0.809L0,0.4L-0.588,0.809L-0.38,0.124L-0.951,-0.309L-0.235,-0.324Z"]}, "legend": null},
               "size": {"field": "series", "type": "nominal", "scale": {"domain": ["Inlet","Upper HF","Upper VF","VF to HF","HF to HF","VF to Slag","HF to Slag"], "range": [8,40,36,36,36,42,50]}, "legend": null}
             }},
            {"transform": [{"filter": "false"}],
             "mark": {"type": "point", "filled": false, "strokeWidth": 1, "color": "#333333"},
             "encoding": {
               "x": {"field": "date", "type": "temporal", "scale": {"type": "utc", "domain": [{"year":2008,"month":5,"date":7,"utc":true},{"year":2008,"month":8,"date":29,"hours":19,"utc":true}]}, "axis": null},
               "y": {"field": "value", "type": "quantitative", "scale": {"type": "log", "domain": [1, 10000], "nice": false}, "axis": null},
               "shape": {"field": "series", "type": "nominal",
                 "scale": {"domain": ["Inlet (n=1)","Upper HF (n=2)","Upper VF (n=4)","VF to HF (n=2)","HF to HF (n=1)","VF to Slag (n=2)","HF to Slag (n=1)"],
                           "range": [
                             "M-2,0L2,0M0.15,0A0.15,0.15,0,1,1,-0.15,0A0.15,0.15,0,1,1,0.15,0",
                             "M-2,0L-1.25,0M-0.95,0L-0.75,0M0.75,0L0.95,0M1.25,0L2,0M-0.45,0L0.45,0M0,-0.45L0,0.45",
                             "M-2,0L-1.2,0M-0.9,0L-0.7,0M0.7,0L0.9,0M1.2,0L2,0M-0.35,-0.35L0.35,0.35M-0.35,0.35L0.35,-0.35",
                             "M-2,0L-1.35,0M-1.05,0L-0.55,0M0.55,0L1.05,0M1.35,0L2,0M0,-0.45L0.42,0.3L-0.42,0.3Z",
                             "M-2,0L-1.35,0M-1.05,0L-0.55,0M0.55,0L1.05,0M1.35,0L2,0M-0.3,-0.45L0.45,0L-0.3,0.45Z",
                             "M-2,0L-1.8,0M-1.48,0L-1.28,0M-0.96,0L-0.76,0M0.76,0L0.96,0M1.28,0L1.48,0M1.8,0L2,0M0.42,0A0.42,0.42,0,1,1,-0.42,0A0.42,0.42,0,1,1,0.42,0",
                             "M-2,0L-1.8,0M-1.48,0L-1.28,0M-0.96,0L-0.76,0M0.76,0L0.96,0M1.28,0L1.48,0M1.8,0L2,0M0,-0.45L0.106,-0.146L0.428,-0.139L0.171,0.056L0.265,0.364L0,0.18L-0.265,0.364L-0.171,0.056L-0.428,-0.139L-0.106,-0.146Z"
                           ]},
                 "legend": {"title": null, "orient": "right", "offset": 6, "padding": 0, "symbolSize": 240, "symbolStrokeWidth": 1, "symbolStrokeColor": "#333333", "symbolFillColor": "transparent", "symbolOffset": 8, "labelFont": "Liberation Sans", "labelFontSize": 14, "labelFontWeight": "bold", "labelColor": "#111111", "labelOffset": 8, "rowPadding": 4.5}}
             }}
          ],
          "resolve": {"scale": {"shape": "independent"}, "legend": {"shape": "independent"}, "axis": {"x": "independent", "y": "independent"}}
        },
        {
          "width": 461, "height": 133,
          "layer": [
            {"data": {"name": "tss08"},
             "mark": {"type": "line", "strokeWidth": 1.1},
             "encoding": {
               "x": {"field": "date", "type": "temporal", "scale": {"type": "utc", "domain": [{"year":2008,"month":5,"date":7,"utc":true},{"year":2008,"month":9,"date":10,"utc":true}]}, "axis": {"values": [{"year":2008,"month":5,"date":7,"utc":true},{"year":2008,"month":6,"date":1,"hours":4,"minutes":48,"utc":true},{"year":2008,"month":6,"date":26,"hours":9,"minutes":36,"utc":true},{"year":2008,"month":7,"date":21,"hours":14,"minutes":24,"utc":true},{"year":2008,"month":8,"date":15,"hours":19,"minutes":12,"utc":true},{"year":2008,"month":9,"date":10,"utc":true}], "format": "%m/%d", "tickSize": -5, "title": null}},
               "y": {"field": "value", "type": "quantitative", "scale": {"type": "log", "domain": [10, 100000], "nice": false}, "axis": {"values": [10, 1000, 100000], "title": null, "tickSize": -5, "labelExpr": "datum.value < 0.001 ? '10⁻⁴' : datum.value < 5 ? '10⁰' : datum.value < 50 ? '10¹' : datum.value < 500 ? '10²' : datum.value < 5000 ? '10³' : datum.value < 50000 ? '10⁴' : datum.value < 500000 ? '10⁵' : '10⁶'"}},
               "color": {"field": "series", "type": "nominal", "scale": {"domain": ["Inlet","Upper HF","Upper VF","VF to HF","HF to HF","VF to Slag","HF to Slag"], "range": ["#1f1f1f","#383838","#454545","#454545","#454545","#666666","#666666"]}, "legend": null},
               "strokeDash": {"field": "series", "type": "nominal", "scale": {"domain": ["Inlet","Upper HF","Upper VF","VF to HF","HF to HF","VF to Slag","HF to Slag"], "range": [[1,0],[7,3,2,3],[10,4,3,4],[6,4],[6,4],[1.5,2.5],[1.5,2.5]]}, "legend": null}
             }},
            {"data": {"name": "tss08"},
             "mark": {"type": "point", "filled": false, "strokeWidth": 1, "opacity": 1},
             "encoding": {
               "x": {"field": "date", "type": "temporal", "scale": {"type": "utc", "domain": [{"year":2008,"month":5,"date":7,"utc":true},{"year":2008,"month":9,"date":10,"utc":true}]}, "axis": {"orient": "top", "values": [{"year":2008,"month":5,"date":7,"utc":true},{"year":2008,"month":6,"date":1,"hours":4,"minutes":48,"utc":true},{"year":2008,"month":6,"date":26,"hours":9,"minutes":36,"utc":true},{"year":2008,"month":7,"date":21,"hours":14,"minutes":24,"utc":true},{"year":2008,"month":8,"date":15,"hours":19,"minutes":12,"utc":true},{"year":2008,"month":9,"date":10,"utc":true}], "labels": false, "tickSize": -5, "title": null}},
               "y": {"field": "value", "type": "quantitative", "scale": {"type": "log", "domain": [10, 100000], "nice": false}, "axis": {"orient": "right", "values": [10, 1000, 100000], "labels": false, "tickSize": -5, "title": null}},
               "color": {"field": "series", "type": "nominal", "scale": {"domain": ["Inlet","Upper HF","Upper VF","VF to HF","HF to HF","VF to Slag","HF to Slag"], "range": ["#1f1f1f","#383838","#454545","#454545","#454545","#666666","#666666"]}, "legend": null},
               "shape": {"field": "series", "type": "nominal", "scale": {"domain": ["Inlet","Upper HF","Upper VF","VF to HF","HF to HF","VF to Slag","HF to Slag"], "range": ["circle","M-1,0L1,0M0,-1L0,1","M-0.75,-0.75L0.75,0.75M-0.75,0.75L0.75,-0.75","triangle-up","triangle-right","circle","M0,-1L0.235,-0.324L0.951,-0.309L0.38,0.124L0.588,0.809L0,0.4L-0.588,0.809L-0.38,0.124L-0.951,-0.309L-0.235,-0.324Z"]}, "legend": null},
               "size": {"field": "series", "type": "nominal", "scale": {"domain": ["Inlet","Upper HF","Upper VF","VF to HF","HF to HF","VF to Slag","HF to Slag"], "range": [8,40,36,36,36,42,50]}, "legend": null}
             }},
            {"data": {"name": "braceR"},
             "mark": {"type": "line", "interpolate": "monotone", "color": "#1a1a1a", "strokeWidth": 1.3},
             "encoding": {
               "x": {"field": "date", "type": "temporal", "scale": {"type": "utc", "domain": [{"year":2008,"month":5,"date":7,"utc":true},{"year":2008,"month":9,"date":10,"utc":true}]}, "axis": null},
               "y": {"field": "pos", "type": "quantitative", "scale": {"domain": [0, 1]}, "axis": null},
               "detail": {"field": "brace", "type": "nominal"}
             }},
            {"data": {"name": "braceRText"},
             "mark": {"type": "text", "font": "Lato", "fontSize": 19, "color": "#111111", "align": "center", "baseline": "middle"},
             "encoding": {
               "x": {"field": "date", "type": "temporal", "scale": {"type": "utc", "domain": [{"year":2008,"month":5,"date":7,"utc":true},{"year":2008,"month":9,"date":10,"utc":true}]}, "axis": null},
               "y": {"field": "pos", "type": "quantitative", "scale": {"domain": [0, 1]}, "axis": null},
               "text": {"field": "label"}
             }}
          ],
          "resolve": {"scale": {"y": "independent"}, "axis": {"x": "independent", "y": "independent"}}
        }
      ],
      "spacing": 21, "bounds": "flush"
    }
  ],
  "spacing": 16,
  "config": {
    "font": "Liberation Sans",
    "view": {"stroke": "#555555", "strokeWidth": 1},
    "axis": {"domain": false, "grid": false, "tickColor": "#444444", "tickWidth": 1, "labelColor": "#111111", "labelFont": "Liberation Sans", "labelFontWeight": "bold", "titleFont": "Liberation Sans", "titleFontWeight": "normal", "titleColor": "#111111", "labelFlush": false, "labelOverlap": false},
    "axisX": {"labelFontSize": 14, "labelPadding": 10},
    "axisY": {"labelFontSize": 15, "titleFontSize": 15},
    "axisLeft": {"minExtent": 30, "maxExtent": 30, "titlePadding": 11, "labelPadding": 12},
    "title": {"fontSize": 20, "fontWeight": "normal", "color": "#222222", "offset": 5, "frame": "group", "font": "Liberation Sans", "anchor": "middle"},
    "line": {"strokeCap": "butt"}
  }
}
